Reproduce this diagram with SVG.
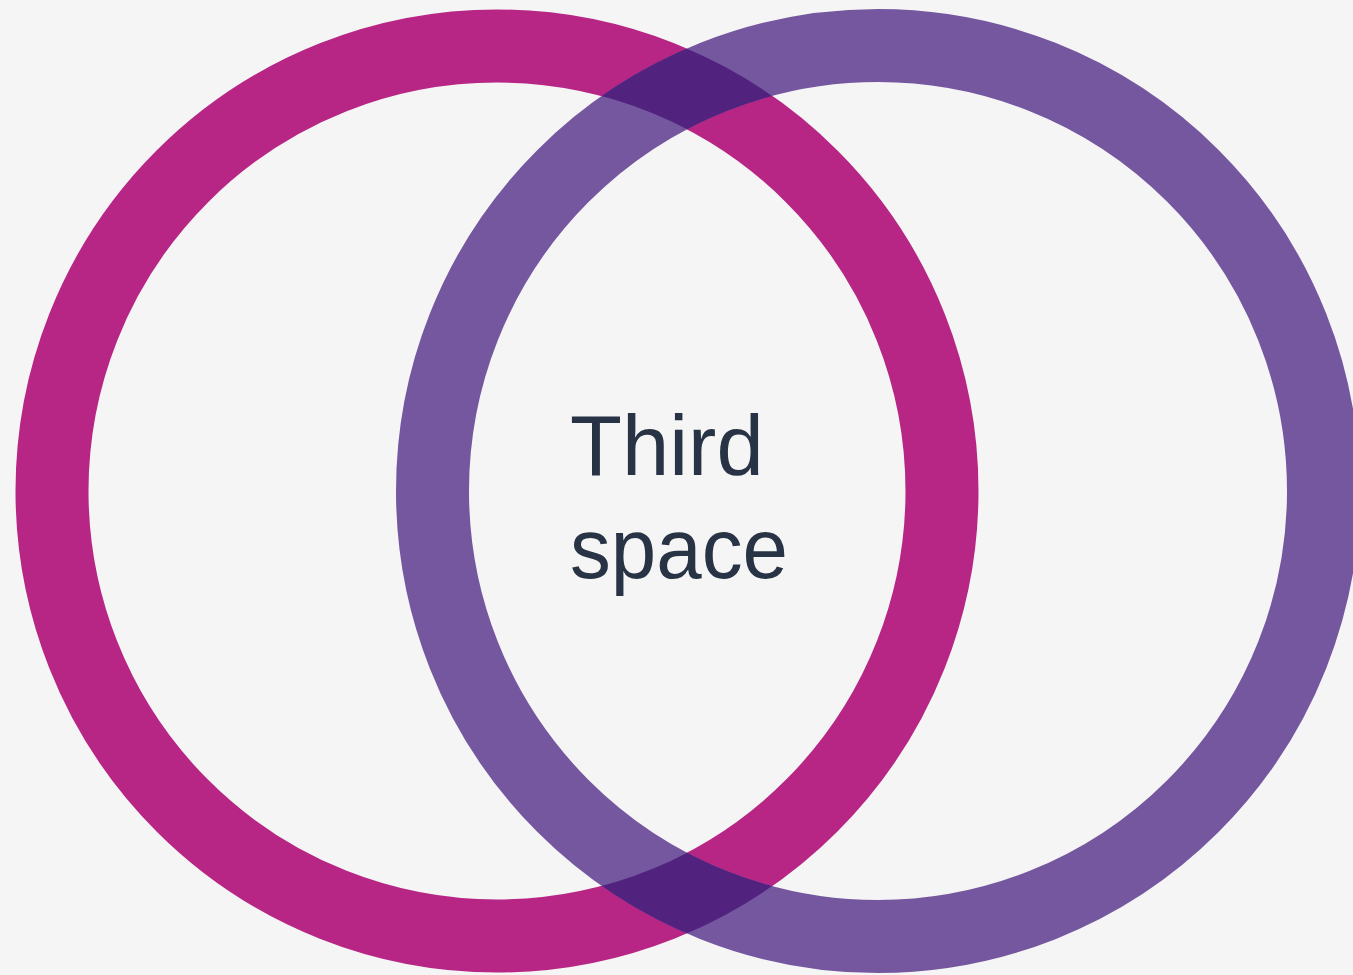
<svg xmlns="http://www.w3.org/2000/svg" width="1353" height="975" viewBox="0 0 1353 975">
<defs>
<style>
.ring{fill:none;stroke-width:73}
.lbl{font-family:"Liberation Sans",Arial,sans-serif;font-size:85px;fill:#283445}
</style>
<clipPath id="leftAnnulus">
<path clip-rule="evenodd" d="M 15.5 491 A 481.5 481.5 0 1 0 978.5 491 A 481.5 481.5 0 1 0 15.5 491 Z M 88.5 491 A 408.5 408.5 0 1 1 905.5 491 A 408.5 408.5 0 1 1 88.5 491 Z"/>
</clipPath>
</defs>
<rect width="1353" height="975" fill="#F5F5F5"/>
<g id="left-ring"><circle class="ring" cx="497" cy="491" r="445" stroke="#B72685"/></g>
<g id="right-ring"><circle class="ring" cx="878" cy="491" r="445.5" stroke="#7557A0"/></g>
<g id="overlap" clip-path="url(#leftAnnulus)"><circle class="ring" cx="878" cy="491" r="445.5" stroke="#51237F"/></g>
<g id="label">
<text class="lbl" x="570" y="475">Third</text>
<text class="lbl" x="570" y="578" textLength="218" lengthAdjust="spacingAndGlyphs">space</text>
</g>
</svg>
